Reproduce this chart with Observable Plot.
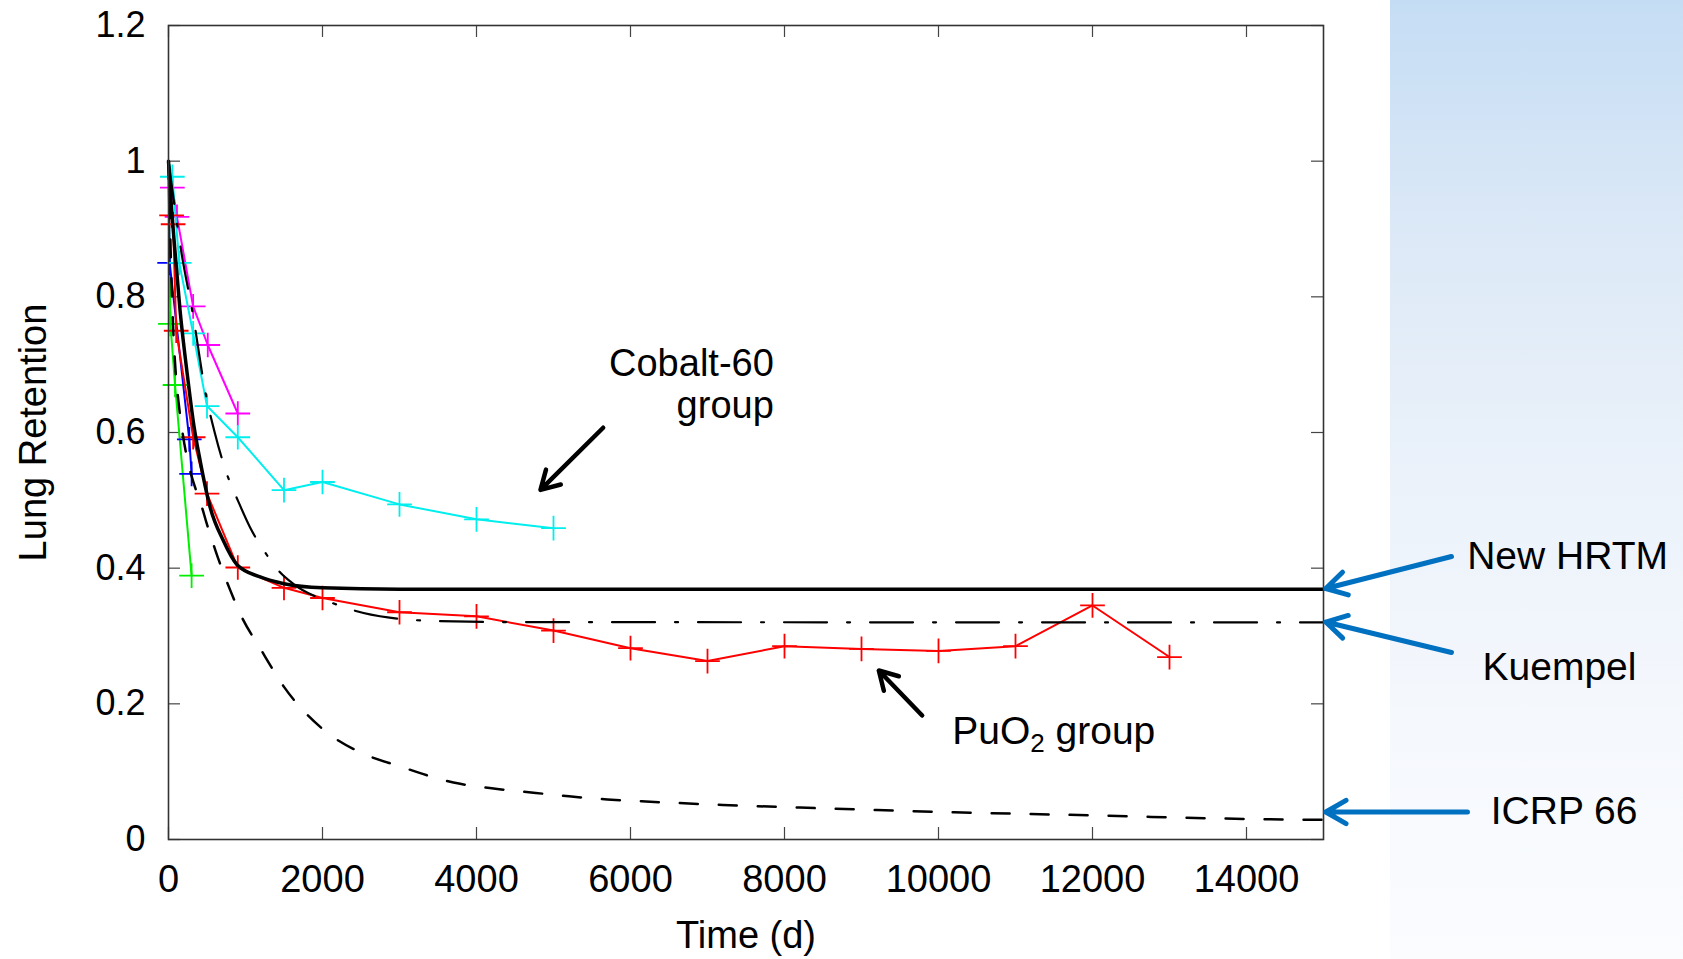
<!DOCTYPE html>
<html>
<head>
<meta charset="utf-8">
<script src="https://cdn.jsdelivr.net/npm/d3@7"></script>
<script src="https://cdn.jsdelivr.net/npm/@observablehq/plot@0.6"></script>
<style>
  html, body { margin: 0; padding: 0; background: #ffffff; }
  #wrap {
    position: relative; width: 1683px; height: 959px;
    background:
      linear-gradient(to right, #ffffff 1390px, rgba(255,255,255,0) 1390px),
      linear-gradient(to bottom, #c5ddf4 0%, #dde9f7 25%, #ebf2fa 50%, #f5f8fd 75%, #fafcfe 100%);
  }
</style>
</head>
<body>
<div id="wrap"></div>
<script>
// ---------- data ----------
const xTicks = [0, 2000, 4000, 6000, 8000, 10000, 12000, 14000];
const yTicks = [0, 0.2, 0.4, 0.6, 0.8, 1, 1.2];

// PuO2 group (red)
const puo2Time = [0, 40, 60, 100, 320, 500, 900, 1500, 2000, 3000, 4000, 5000, 6000, 7000, 8000, 9000, 10000, 11000, 12000, 13000];
const puo2Ret  = [1, 0.92, 0.907, 0.75, 0.593, 0.51, 0.401, 0.371, 0.356, 0.335, 0.329, 0.308, 0.282, 0.263, 0.285, 0.281, 0.278, 0.285, 0.345, 0.269];
// Cobalt-60 group (cyan)
const cobaltTime = [0, 50, 140, 320, 500, 900, 1500, 2000, 3000, 4000, 5000];
const cobaltRet  = [1, 0.977, 0.85, 0.746, 0.639, 0.593, 0.515, 0.527, 0.494, 0.472, 0.459];
// magenta series
const magentaTime = [0, 50, 110, 320, 510, 900];
const magentaRet  = [1, 0.961, 0.918, 0.786, 0.729, 0.628];
// blue series
const blueTime = [0, 15, 270, 300];
const blueRet  = [1, 0.85, 0.59, 0.539];
// green series
const greenTime = [0, 25, 85, 300];
const greenRet  = [1, 0.76, 0.67, 0.389];

// model curves
const hrtmTime = [0, 40, 75, 150, 250, 330, 410, 540, 710, 890, 1190, 1500, 2000, 3000, 15000];
const hrtmRet  = [1, 0.93, 0.88, 0.78, 0.68, 0.61, 0.559, 0.49, 0.441, 0.405, 0.387, 0.377, 0.371, 0.369, 0.369];
const kuempelTime = [0, 170, 320, 475, 600, 764, 900, 1060, 1250, 1425, 1620, 2100, 2400, 2870, 3500, 4500, 15000];
const kuempelRet  = [1, 0.864, 0.772, 0.662, 0.60, 0.537, 0.50, 0.46, 0.424, 0.397, 0.377, 0.35, 0.338, 0.327, 0.322, 0.3205, 0.320];
const icrpTime = [0, 40, 130, 465, 610, 800, 930, 1200, 1500, 2000, 2500, 3000, 3700, 4270, 4770, 5200, 5700, 6200, 7200, 8200, 9200, 10200, 11200, 12200, 13200, 14200, 15000];
const icrpRet  = [1, 0.82, 0.645, 0.478, 0.426, 0.368, 0.333, 0.28, 0.225, 0.163, 0.128, 0.108, 0.084, 0.0745, 0.0686, 0.0636, 0.059, 0.056, 0.051, 0.047, 0.0435, 0.040, 0.0376, 0.035, 0.032, 0.030, 0.029];

// model labels and their arrows (data coordinates, right of the frame)
const modelLabels = ["New HRTM", "Kuempel", "ICRP 66"];
const modelLabelT = [18170, 18065, 18125];
const modelLabelR = [0.399, 0.2344, 0.0231];
const modelArrowT1 = [16662, 16662, 16870];
const modelArrowR1 = [0.4172, 0.2757, 0.0405];
const modelArrowT2 = [15030, 15030, 15030];
const modelArrowR2 = [0.370, 0.3206, 0.0405];

// group labels and arrows
const cobaltLabels = ["Cobalt-60", "group"];
const cobaltLabelT = [7861, 7861];
const cobaltLabelR = [0.684, 0.622];
const puo2Label = ["PuO2 group"];
const puo2LabelT = [10178];
const puo2LabelR = [0.1411];
const groupArrowT1 = [5645, 9788];
const groupArrowR1 = [0.607, 0.1828];
const groupArrowT2 = [4831, 9225];
const groupArrowR2 = [0.5154, 0.2491];

// ---------- chart ----------
const W = 1683, H = 959;
const mL = 168, mR = 360, mT = 25, mB = 120;
const frameW = W - mL - mR, frameH = H - mT - mB;
const tickLen = 12;
const font = "'Liberation Sans', Arial, Helvetica, sans-serif";

const zip = (t, r) => t.map((x, i) => ({t: x, r: r[i]}));
const labelRows = (s, t, r) => s.map((v, i) => ({s: v, t: t[i], r: r[i]}));
const dataSeries = [
  {d: zip(greenTime, greenRet), c: "#00ee00"},
  {d: zip(blueTime, blueRet), c: "#0000ff"},
  {d: zip(magentaTime, magentaRet), c: "#ff00ff"},
  {d: zip(cobaltTime, cobaltRet), c: "#00eeee"},
  {d: zip(puo2Time, puo2Ret), c: "#ff0000"}
];

const modelArrowData = modelArrowT1.map((t, i) => ({t1: t, r1: modelArrowR1[i], t2: modelArrowT2[i], r2: modelArrowR2[i]}));
const groupArrowData = groupArrowT1.map((t, i) => ({t1: t, r1: groupArrowR1[i], t2: groupArrowT2[i], r2: groupArrowR2[i]}));

const marks = [
  // inward ticks on all four sides
  Plot.ruleX(xTicks, {x: d => d, insetTop: frameH - tickLen, stroke: "#444", strokeWidth: 1.2}),
  Plot.ruleX(xTicks, {x: d => d, insetBottom: frameH - tickLen, stroke: "#444", strokeWidth: 1.2}),
  Plot.ruleY(yTicks, {y: d => d, insetRight: frameW - tickLen, stroke: "#444", strokeWidth: 1.2}),
  Plot.ruleY(yTicks, {y: d => d, insetLeft: frameW - tickLen, stroke: "#444", strokeWidth: 1.2}),
  Plot.axisX({ticks: xTicks, tickSize: 0, tickPadding: 26, fontSize: 38, label: null, tickFormat: d => `${d}`}),
  Plot.axisY({ticks: yTicks, tickSize: 0, tickPadding: 23, fontSize: 36, label: null, tickFormat: d => `${d}`}),
];

for (const s of dataSeries) {
  marks.push(Plot.line(s.d, {x: "t", y: "r", stroke: s.c, strokeWidth: 2}));
  marks.push(Plot.dot(s.d.filter(p => p.t > 0), {x: "t", y: "r", symbol: "plus", r: 8, stroke: s.c, strokeWidth: 1.8}));
}

marks.push(
  Plot.line(zip(icrpTime, icrpRet), {x: "t", y: "r", stroke: "#000", strokeWidth: 2.5, strokeDasharray: "18,21", curve: "monotone-x"}),
  Plot.line(zip(kuempelTime, kuempelRet), {x: "t", y: "r", stroke: "#000", strokeWidth: 2.2, strokeDasharray: "43,20,3,20", curve: "monotone-x"}),
  Plot.line(zip(hrtmTime, hrtmRet), {x: "t", y: "r", stroke: "#000", strokeWidth: 3.5, curve: "monotone-x"}),
  Plot.frame({stroke: "#333", strokeWidth: 1.6}),
  // axis titles
  Plot.text(["Lung Retention"], {text: d => d, frameAnchor: "left", rotate: -90, dx: 45 - mL, lineAnchor: "bottom", textAnchor: "middle", fontSize: 38, fill: "#000"}),
  Plot.text(["Time (d)"], {text: d => d, frameAnchor: "bottom", dy: 947 - (H - mB), lineAnchor: "bottom", textAnchor: "middle", fontSize: 38, fill: "#000"}),
  // group annotations
  Plot.arrow(groupArrowData, {x1: "t1", y1: "r1", x2: "t2", y2: "r2", stroke: "#000", strokeWidth: 4.5, headLength: 7}),
  Plot.text(labelRows(cobaltLabels, cobaltLabelT, cobaltLabelR), {x: "t", y: "r", text: "s", textAnchor: "end", lineAnchor: "bottom", fontSize: 38, fill: "#000"}),
  Plot.text(labelRows(puo2Label, puo2LabelT, puo2LabelR), {x: "t", y: "r", text: "s", textAnchor: "start", lineAnchor: "bottom", fontSize: 39, fill: "#000"}),
  // model annotations
  Plot.arrow(modelArrowData, {x1: "t1", y1: "r1", x2: "t2", y2: "r2", stroke: "#0070c0", strokeWidth: 5, headLength: 7}),
  Plot.text(labelRows(modelLabels, modelLabelT, modelLabelR), {x: "t", y: "r", text: "s", textAnchor: "middle", lineAnchor: "bottom", fontSize: 39, fill: "#000"})
);

const chart = Plot.plot({
  width: W, height: H,
  marginLeft: mL, marginRight: mR, marginTop: mT, marginBottom: mB,
  style: {background: "transparent", fontFamily: font, overflow: "visible", color: "#000"},
  x: {domain: [0, 15000]},
  y: {domain: [0, 1.2]},
  marks
});

// subscript in "PuO2 group"
d3.select(chart).selectAll("text").each(function() {
  if (this.textContent === "PuO2 group") {
    const t = d3.select(this);
    t.text(null);
    t.append("tspan").text("PuO");
    t.append("tspan").attr("dy", 8).attr("font-size", 26).text("2");
    t.append("tspan").attr("dy", -8).text(" group");
  }
});

document.getElementById("wrap").appendChild(chart);
</script>
</body>
</html>
